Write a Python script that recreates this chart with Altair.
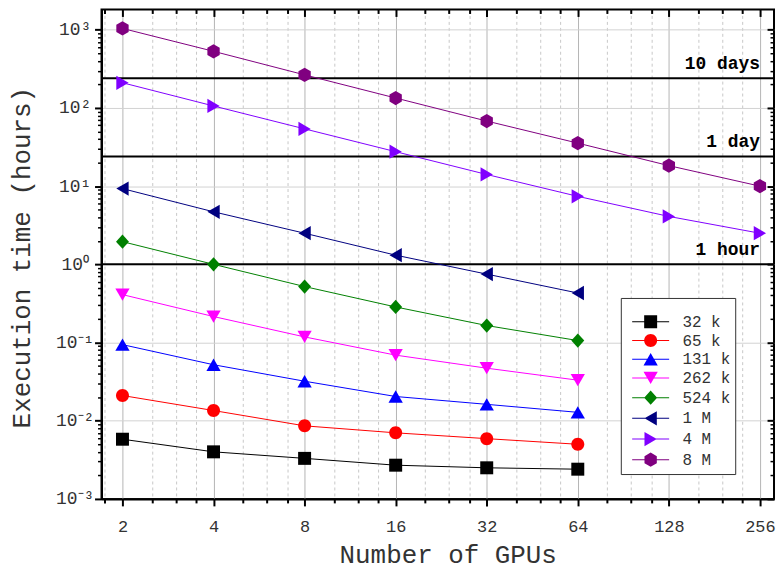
import altair as alt
import pandas as pd

# ---------------- data ----------------
gpus = [2, 4, 8, 16, 32, 64, 128, 256]
series_names = ["32 k", "65 k", "131 k", "262 k", "524 k", "1 M", "4 M", "8 M"]
colors = ["#000000", "#FF0000", "#0000FF", "#FF00FF", "#008000", "#000080", "#8000FF", "#800080"]

t_32k = [0.0058, 0.0040, 0.0033, 0.0027, 0.0025, 0.0024]
t_65k = [0.021, 0.0135, 0.0086, 0.0070, 0.0059, 0.0050]
t_131k = [0.094, 0.052, 0.032, 0.0204, 0.0162, 0.0128]
t_262k = [0.41, 0.215, 0.118, 0.069, 0.047, 0.033]
t_524k = [1.95, 1.0, 0.52, 0.285, 0.165, 0.106]
t_1M = [9.3, 4.7, 2.5, 1.31, 0.75, 0.43]
t_4M = [210, 106, 54, 27.6, 14.1, 7.4, 4.1, 2.5]
t_8M = [1040, 530, 265, 134, 68, 35.5, 18.3, 10.0]

ref_values = [1, 24, 240]
ref_labels = ["1 hour", "1 day", "10 days"]

x_major = gpus
x_minor = [1.75, 2.5, 3, 3.5, 5, 6, 7, 10, 12, 14, 20, 24, 28, 40, 48, 56,
           80, 96, 112, 160, 192, 224]
y_major = [0.001, 0.01, 0.1, 1, 10, 100, 1000]
y_minor = [m * d for d in [0.001, 0.01, 0.1, 1, 10, 100] for m in range(2, 10)]

all_series = [t_32k, t_65k, t_131k, t_262k, t_524k, t_1M, t_4M, t_8M]
rows = []
for name, vals in zip(series_names, all_series):
    for g, v in zip(gpus, vals):
        rows.append({"gpus": g, "time": v, "series": name})
df = pd.DataFrame(rows)
ref_df = pd.DataFrame({"t": ref_values, "label": ref_labels})

# ---------------- style ----------------
FONT = "Liberation Mono"
TXT = "#333333"

xscale = alt.Scale(type="log", base=2, domain=[1.705, 285], nice=False)
yscale = alt.Scale(type="log", domain=[0.001, 1818], nice=False)

# marker shapes (all wound the same way)
plot_paths = [
    "M-1,-1H1V1H-1Z",
    "M1,0A1,1,0,1,1,-1,0A1,1,0,1,1,1,0Z",
    "M0,-0.95L1.1,0.95L-1.1,0.95Z",
    "M0,0.95L-1.1,-0.95L1.1,-0.95Z",
    "M0,-1.1L1,0L0,1.1L-1,0Z",
    "M-0.95,0L0.95,-1.1L0.95,1.1Z",
    "M0.95,0L-0.95,1.1L-0.95,-1.1Z",
    "M0,-1.1L0.95,-0.55L0.95,0.55L0,1.1L-0.95,0.55L-0.95,-0.55Z",
]
line_bits = "M-2.85,-0.08H-0.4V0.08H-2.85ZM0.4,-0.08H2.85V0.08H0.4Z"
legend_paths = [p + line_bits for p in plot_paths]

y_label_expr = ("datum.value < 0.005 ? '10⁻³' : datum.value < 0.05 ? '10⁻²' : "
                "datum.value < 0.5 ? '10⁻¹' : datum.value < 5 ? '10⁰' : "
                "datum.value < 50 ? '10¹' : datum.value < 500 ? '10²' : '10³'")

base = alt.Chart(df)

# axis carrier layers (invisible points)
ax_main = base.mark_point(opacity=0).encode(
    x=alt.X("gpus:Q", scale=xscale, axis=alt.Axis(
        orient="bottom", values=x_major, format="d", title="Number of GPUs",
        grid=True, gridColor="#b4b4b4", gridWidth=1,
        tickSize=7, tickWidth=2, tickColor="black",
        domainColor="black", domainWidth=2,
        labelFont=FONT, labelFontSize=17, labelColor=TXT, labelPadding=13,
        labelFlush=False, labelOverlap=False,
        titleFont=FONT, titleFontSize=26, titleFontWeight="normal", titleColor=TXT,
        titleX=348, titleY=64, titleBaseline="alphabetic", titleAlign="center")),
    y=alt.Y("time:Q", scale=yscale, axis=alt.Axis(
        orient="left", values=y_major, labelExpr=y_label_expr, title="Execution time (hours)",
        grid=True, gridColor="#d2d2d2", gridWidth=1,
        tickSize=7, tickWidth=2, tickColor="black",
        domainColor="black", domainWidth=2,
        labelFont=FONT, labelFontSize=18, labelColor=TXT, labelAlign="center",
        labelBaseline="middle", labelPadding=20, labelFlush=False, labelOverlap=False,
        titleFont=FONT, titleFontSize=26, titleFontWeight="normal", titleColor=TXT,
        titleX=-72, titleY=249, titleAngle=-90, titleBaseline="alphabetic",
        titleAlign="center")),
)

ax_minor = base.mark_point(opacity=0).encode(
    x=alt.X("gpus:Q", scale=xscale, axis=alt.Axis(
        orient="bottom", values=x_minor, labels=False, title=None, domain=False,
        grid=True, gridColor="#c8c8c8", gridDash=[3, 3], gridWidth=1,
        tickSize=4, tickWidth=2, tickColor="black")),
    y=alt.Y("time:Q", scale=yscale, axis=alt.Axis(
        orient="left", values=y_minor, labels=False, title=None, domain=False,
        grid=False, tickSize=4, tickWidth=1.5, tickColor="black")),
)

ax_mirror = base.mark_point(opacity=0).encode(
    x=alt.X("gpus:Q", scale=xscale, axis=alt.Axis(
        orient="top", values=x_major, labels=False, title=None, domain=False,
        grid=False, offset=-7, tickSize=7, tickWidth=2, tickColor="black")),
    y=alt.Y("time:Q", scale=yscale, axis=alt.Axis(
        orient="right", values=y_major, labels=False, title=None, domain=False,
        grid=False, offset=-7, tickSize=7, tickWidth=2, tickColor="black")),
)

ax_mirror_minor = base.mark_point(opacity=0).encode(
    x=alt.X("gpus:Q", scale=xscale, axis=alt.Axis(
        orient="top", values=x_minor, labels=False, title=None, domain=False,
        grid=False, offset=-4, tickSize=4, tickWidth=2, tickColor="black")),
    y=alt.Y("time:Q", scale=yscale, axis=alt.Axis(
        orient="right", values=y_minor, labels=False, title=None, domain=False,
        grid=False, offset=-4, tickSize=4, tickWidth=1.5, tickColor="black")),
)

# reference lines and labels
rules = alt.Chart(ref_df).mark_rule(color="black", strokeWidth=2).encode(
    y=alt.Y("t:Q", scale=yscale, axis=None))
ref_text = alt.Chart(ref_df).mark_text(
    align="right", baseline="alphabetic", dy=-9, font=FONT, fontSize=18,
    fontWeight="bold", color="black").encode(
    x=alt.XDatum(256, type="quantitative", scale=xscale, axis=None),
    y=alt.Y("t:Q", scale=yscale, axis=None),
    text="label:N")

# data
def color_enc(legend=None):
    return alt.Color("series:N", scale=alt.Scale(domain=series_names, range=colors), legend=legend)

lines = base.mark_line(strokeWidth=1).encode(
    x=alt.X("gpus:Q", scale=xscale, axis=None),
    y=alt.Y("time:Q", scale=yscale, axis=None),
    color=color_enc(), detail="series:N")
points = base.mark_point(filled=True, size=170, opacity=1, strokeWidth=0).encode(
    x=alt.X("gpus:Q", scale=xscale, axis=None),
    y=alt.Y("time:Q", scale=yscale, axis=None),
    color=color_enc(),
    shape=alt.Shape("series:N", scale=alt.Scale(domain=series_names, range=plot_paths), legend=None))

# legend layer (no data drawn)
leg = alt.Legend(orient="none", legendX=522, legendY=290, title=" ", titleFontSize=8,
                 titlePadding=4, padding=4, strokeColor="#333333", fillColor="white",
                 labelFont=FONT, labelFontSize=16, labelColor=TXT, symbolSize=170,
                 symbolOffset=18, labelOffset=24, rowPadding=-1.2, symbolOpacity=1)
legend_layer = base.mark_point(filled=True, size=170, opacity=1, strokeWidth=0).encode(
    x=alt.X("gpus:Q", scale=xscale, axis=None),
    y=alt.Y("time:Q", scale=yscale, axis=None),
    color=color_enc(leg),
    shape=alt.Shape("series:N", scale=alt.Scale(domain=series_names, range=legend_paths), legend=leg),
).transform_filter("false")

chart = alt.layer(
    ax_main, ax_minor, ax_mirror, ax_mirror_minor, rules, lines, points, ref_text, legend_layer
).resolve_scale(shape="independent", color="independent").resolve_axis(
    x="independent", y="independent").properties(
    width=676, height=492,
    autosize=alt.AutoSizeParams(type="none"),
    padding={"left": 94, "top": 0, "right": 2, "bottom": 74},
).configure_view(stroke="black", strokeWidth=2)

chart.save("out.html", embed_options={"renderer": "svg", "actions": False})
